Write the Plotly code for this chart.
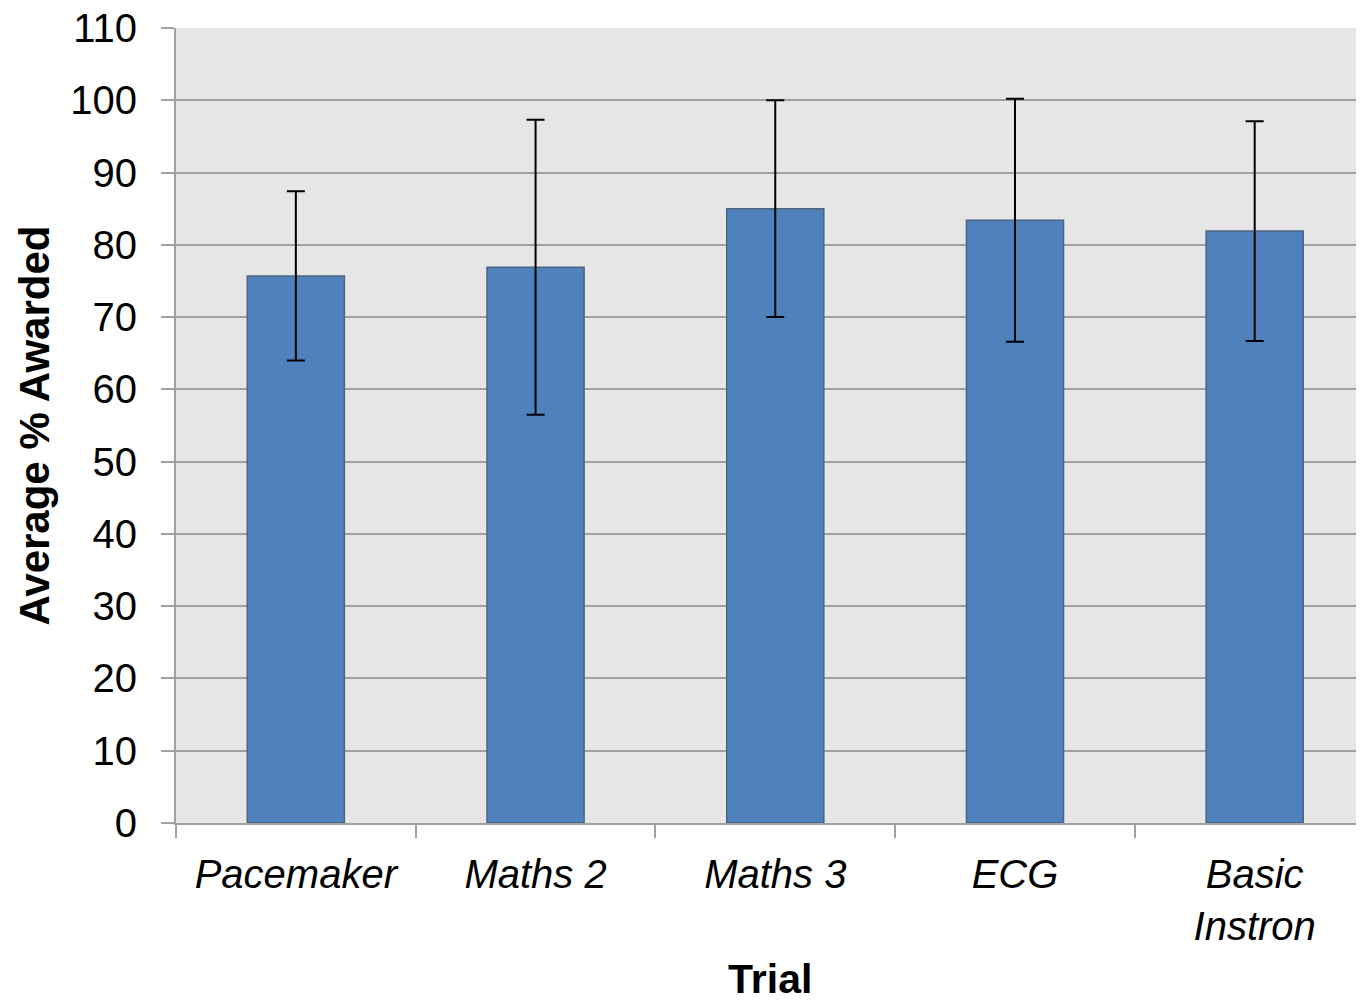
import plotly.graph_objects as go

categories = ["Pacemaker", "Maths 2", "Maths 3", "ECG", "Basic<br>Instron"]
means = [75.7, 76.9, 85.0, 83.4, 81.9]
errors = [11.7, 20.4, 15.0, 16.8, 15.2]
y_ticks = list(range(0, 111, 10))

FONT = "Liberation Sans, Arial, sans-serif"

fig = go.Figure()
fig.add_trace(go.Bar(
    x=categories,
    y=means,
    width=0.405,
    marker=dict(color="#4f81bd", line=dict(color="#4d6480", width=1.5)),
    error_y=dict(type="data", array=errors, visible=True, color="#000000",
                 thickness=2, width=9),
))

fig.update_layout(
    width=1356, height=995,
    margin=dict(l=168, r=0, t=20, b=180, autoexpand=False),
    paper_bgcolor="white",
    plot_bgcolor="#e6e6e6",
    showlegend=False,
    font=dict(family=FONT, color="#000000"),
)

fig.update_xaxes(
    range=[-0.5, 4.456],
    tickson="boundaries",
    ticks="outside", ticklen=13, tickwidth=2, tickcolor="#a0a0a0",
    showline=True, linecolor="#a0a0a0", linewidth=2,
    showgrid=False,
    tickfont=dict(family=FONT, size=40, style="italic"),
    ticklabelstandoff=15,
    automargin=False,
)
fig.update_yaxes(
    range=[0, 110],
    tickvals=y_ticks,
    ticks="outside", ticklen=13, tickwidth=2, tickcolor="#a0a0a0",
    showline=True, linecolor="#a0a0a0", linewidth=2,
    showgrid=True, gridcolor="#a0a0a0", gridwidth=2,
    zeroline=False,
    tickfont=dict(family=FONT, size=40),
    ticklabelstandoff=16,
    ticklabeloverflow="allow",
    automargin=False,
)

fig.add_annotation(text="<b>Average % Awarded</b>", xref="paper", yref="paper",
                   x=-0.1187, y=0.5, xanchor="center", yanchor="middle",
                   textangle=-90, showarrow=False,
                   font=dict(family=FONT, size=42))
fig.add_annotation(text="<b>Trial</b>", xref="paper", yref="paper",
                   x=0.5, y=-0.196, xanchor="center", yanchor="middle",
                   showarrow=False, font=dict(family=FONT, size=41))

fig.write_html("out.html")
